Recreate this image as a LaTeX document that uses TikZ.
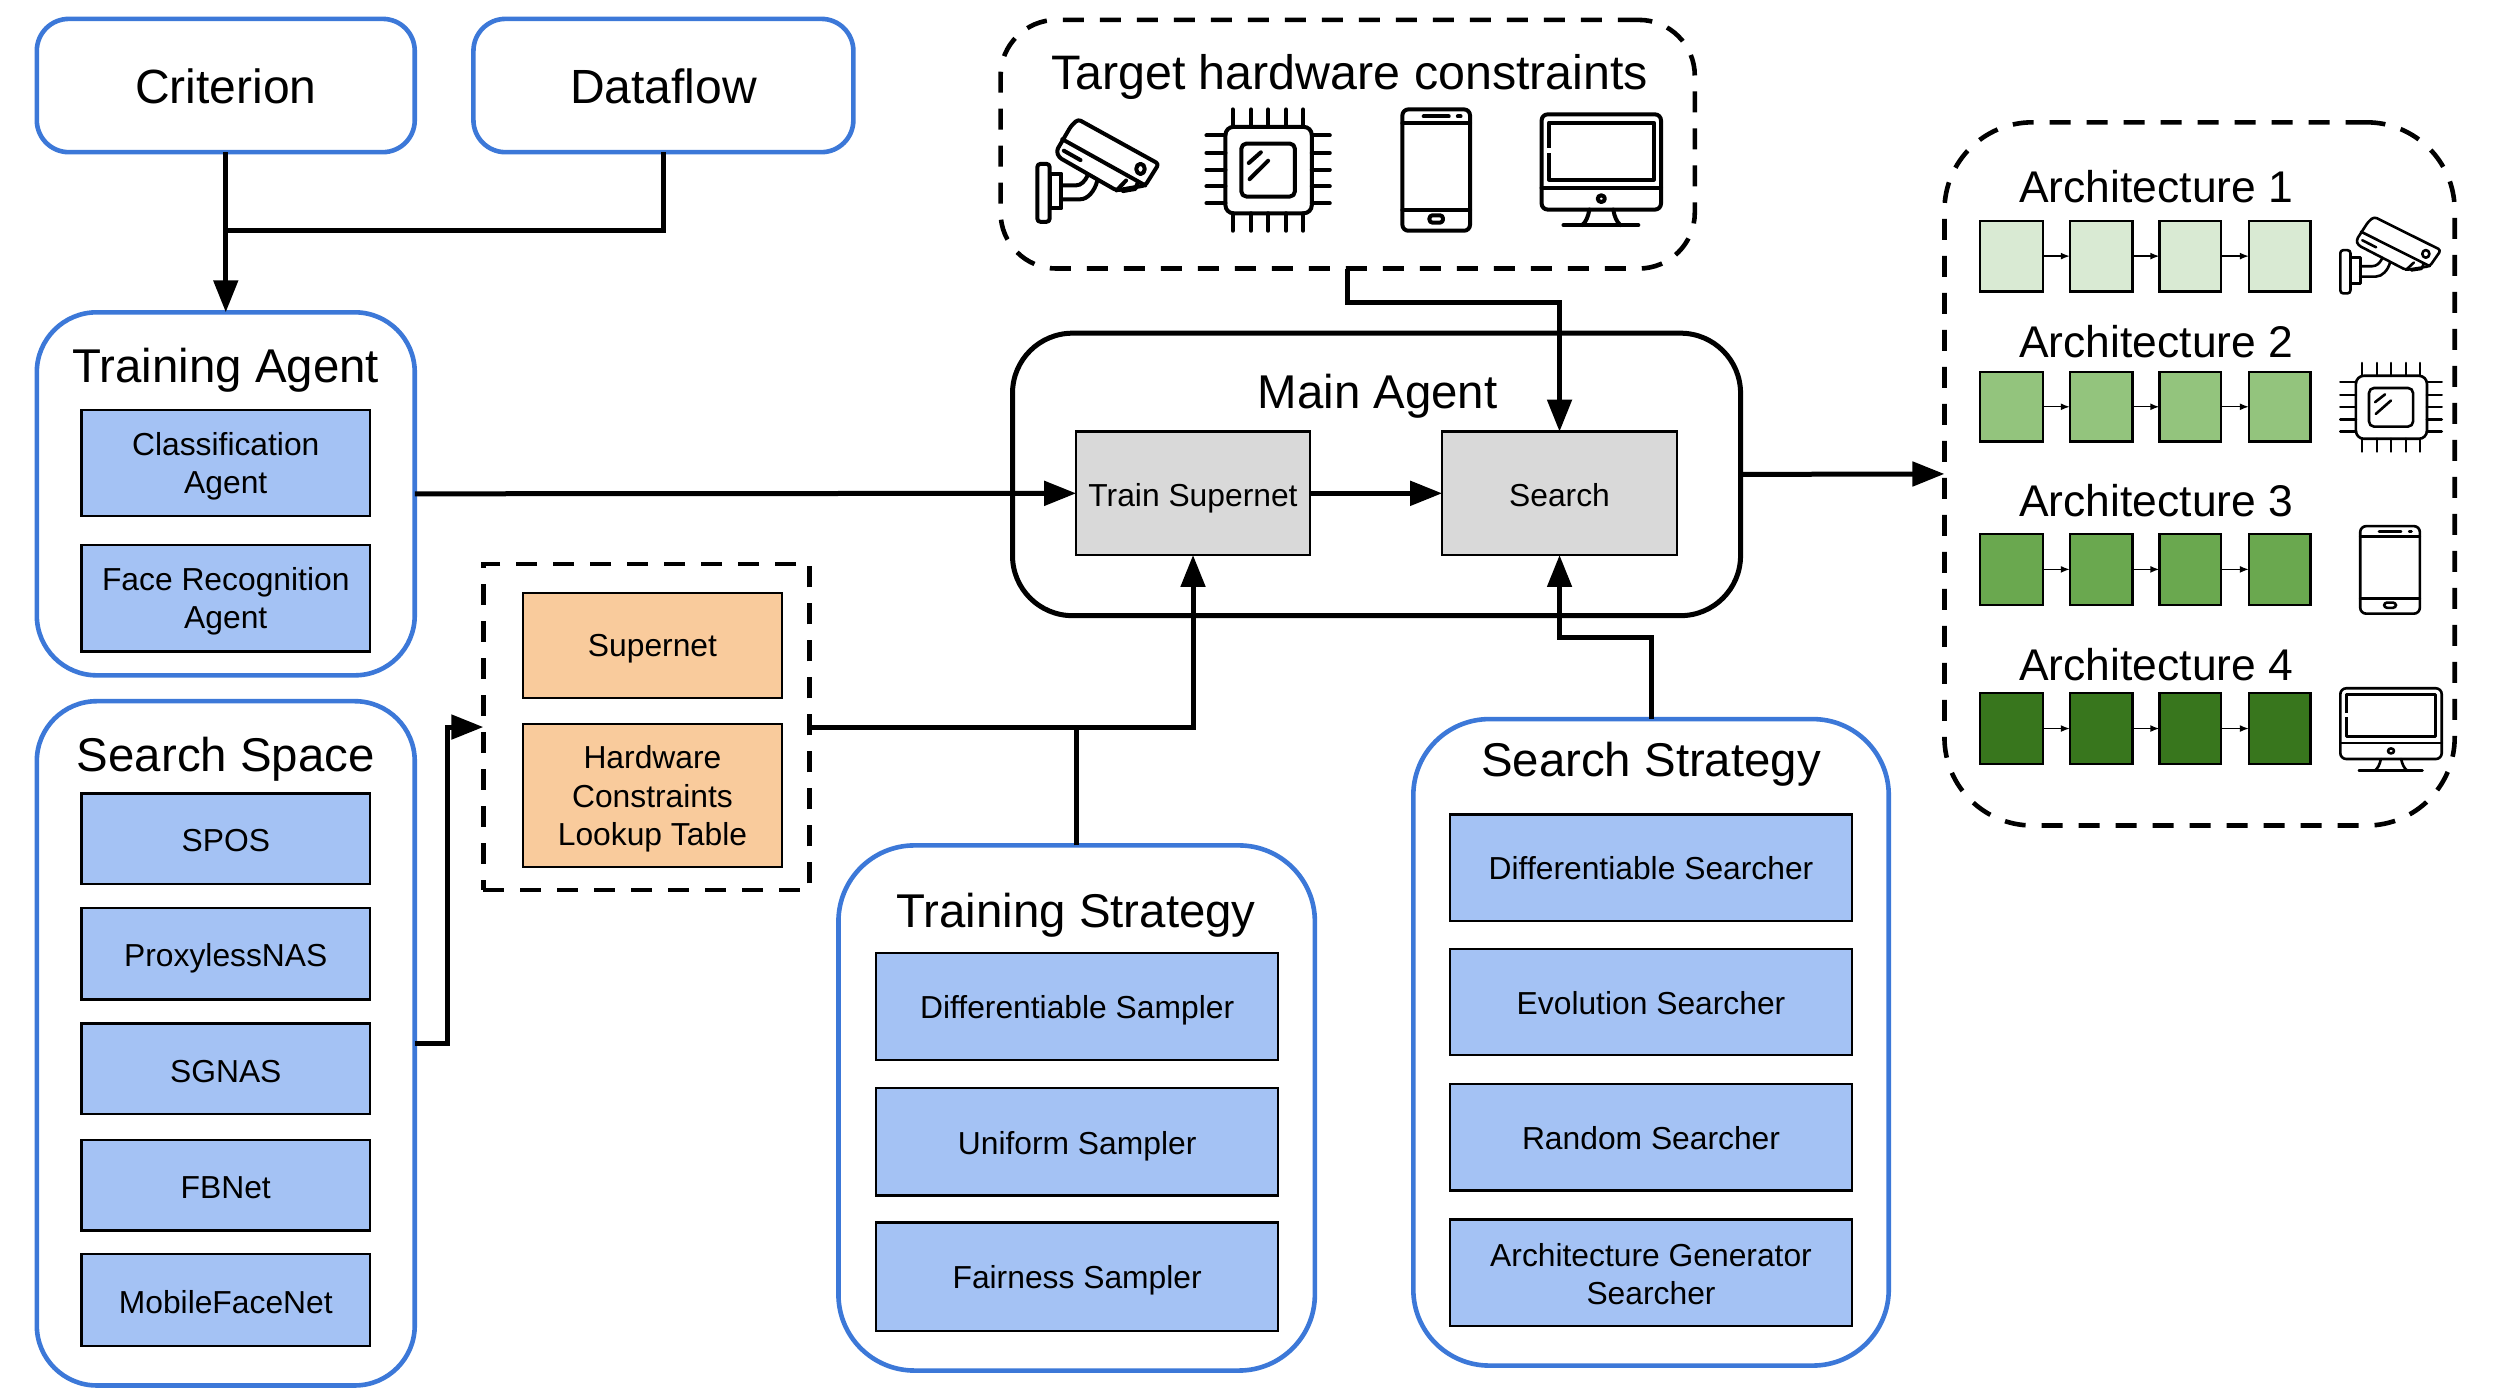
\documentclass[tikz,border=0pt]{standalone}
\usepackage{fontspec}
\setmainfont{Liberation Sans}
\usetikzlibrary{arrows.meta,calc}
\definecolor{panelblue}{HTML}{3C78D8}
\definecolor{agentblue}{HTML}{A4C2F4}
\definecolor{lookuporange}{HTML}{F9CB9C}
\definecolor{maingray}{HTML}{D9D9D9}
\definecolor{greenA}{HTML}{D9EAD3}
\definecolor{greenB}{HTML}{93C47D}
\definecolor{greenC}{HTML}{6AA84F}
\definecolor{greenD}{HTML}{38761D}
\tikzset{
  base/.style={shape=rectangle,inner sep=0pt,outer sep=0pt,align=center},
  panel/.style={base,draw=panelblue,line width=2.3pt,fill=white},
  topbox/.style={panel,rounded corners=16pt,text height=18.5pt,font=\fontsize{24}{28}\selectfont},
  dashpanel/.style={base,draw=black,line width=2.3pt,dash pattern=on 10.5pt off 8pt},
  item/.style={base,draw=black,line width=1.2pt,fill=agentblue,font=\fontsize{15.9}{19.2}\selectfont},
  drop/.style={text height=#1},
  lookup/.style={item,fill=lookuporange},
  proc/.style={item,fill=maingray},
  title/.style={base,font=\fontsize{23.7}{28}\selectfont},
  wideTitle/.style={base,font=\fontsize{24.2}{28}\selectfont},
  archtitle/.style={base,font=\fontsize{22.2}{26}\selectfont},
  block/.style={base,draw=black,line width=1.2pt},
  conn/.style={draw=black,line width=2.5pt,line join=miter},
  flow/.style={conn,-{Triangle[length=16pt,width=12pt]}},
  tiny/.style={draw=black,line width=0.7pt,-{Latex[length=4.5pt,width=3.5pt]}},
  icon/.style={draw=black,line join=round,line cap=round}
}
% #1 name #2 style #3 x1 #4 y1 #5 x2 #6 y2 #7 text
\newcommand{\bx}[7]{\node[#2,minimum width={(#5-#3)*0.4973pt},minimum height={(#6-#4)*0.4973pt}] (#1) at ({(#3+#5)/2},{(#4+#6)/2}) {#7};}
% icons: x y w h line width
\newcommand{\iconcam}[5]{\begin{scope}[shift={(#1,#2)},xscale=#3,yscale=#4,icon,line width=#5]
  \draw[rounded corners=1.5pt] (0,.435) rectangle (.1,1);
  \draw (.1,.53) rectangle (.196,.87);
  \draw (.196,.645) -- (.314,.645) .. controls (.36,.645) and (.39,.6) .. (.41,.55);
  \draw (.196,.78) -- (.353,.78) .. controls (.41,.78) and (.47,.7) .. (.49,.597);
  \draw[rounded corners=1.5pt] (.333,0) -- (.992,.435) -- (.882,.645) -- (.647,.694) -- (.176,.371) -- (.157,.306) -- (.275,.065) -- cycle;
  \draw (.204,.194) -- (.882,.645);
  \draw (.216,.306) -- (.353,.398);
  \draw (.843,.484) circle [x radius=.035,y radius=.05];
  \draw (.725,.597) -- (.647,.694);
  \draw (.7,.70) -- (.8,.68) -- (.82,.62);
\end{scope}}
\newcommand{\iconchip}[5]{\begin{scope}[shift={(#1,#2)},xscale=#3,yscale=#4,icon,line width=#5]
  \foreach \u in {.213,.362,.5,.646,.784}{\draw (\u,0) -- (\u,.144); \draw (\u,.856) -- (\u,1);}
  \foreach \v in {.215,.359,.497,.635,.773}{\draw (0,\v) -- (.154,\v); \draw (.854,\v) -- (1,\v);}
  \draw[rounded corners=4pt] (.154,.144) rectangle (.854,.856);
  \draw[rounded corners=2.5pt] (.283,.282) rectangle (.717,.718);
  \draw (.441,.354) -- (.343,.442);
  \draw (.5,.423) -- (.35,.575);
\end{scope}}
\newcommand{\iconphone}[5]{\begin{scope}[shift={(#1,#2)},xscale=#3,yscale=#4,icon,line width=#5]
  \draw[rounded corners=3pt] (0,0) rectangle (1,1);
  \draw (0,.116) -- (1,.116);
  \draw (0,.829) -- (1,.829);
  \draw (.315,.058) -- (.685,.058);
  \draw (.82,.058) -- (.86,.058);
  \draw[rounded corners=1.5pt] (.4,.873) rectangle (.6,.933);
\end{scope}}
\newcommand{\iconmon}[5]{\begin{scope}[shift={(#1,#2)},xscale=#3,yscale=#4,icon,line width=#5]
  \draw[rounded corners=3pt] (0,0) rectangle (1,.847);
  \draw (.06,.074) rectangle (.94,.58);
  \draw[white,line cap=butt] (.06,.30) -- (.06,.34);
  \draw (0,.655) -- (1,.655);
  \draw (.5,.75) circle [x radius=.03,y radius=.03];
  \draw (.4,.847) .. controls (.39,.91) and (.37,.96) .. (.34,.985);
  \draw (.6,.847) .. controls (.61,.91) and (.63,.96) .. (.66,.985);
  \draw (.183,.985) -- (.81,.985);
\end{scope}}
\begin{document}
\begin{tikzpicture}[x=0.4973pt,y=-0.4973pt]
\path[use as bounding box,fill=white] (0,0) rectangle (2513.57,1407.6);
% top boxes
\bx{crit}{topbox}{37}{19}{417}{153}{Criterion}
\bx{df}{topbox}{476}{19}{858}{153}{Dataflow}
% training agent
\bx{ta}{panel,rounded corners=30pt}{37}{314}{417}{679}{}
\node[title] (tat) at (227,372) {Training Agent};
\bx{ca}{item,drop=34pt}{82}{412}{372}{519}{Classification\\Agent}
\bx{fa}{item,drop=34pt}{82}{548}{372}{655}{Face Recognition\\Agent}
% search space
\bx{ss}{panel,rounded corners=30pt}{37}{705}{417}{1393}{}
\node[title] (sst) at (227,763) {Search Space};
\bx{sp}{item,drop=13.2pt}{82}{798}{372}{889}{SPOS}
\bx{pn}{item,drop=15.6pt}{82}{913}{372}{1005}{ProxylessNAS}
\bx{sg}{item,drop=14pt}{82}{1029}{372}{1120}{SGNAS}
\bx{fb}{item,drop=14pt}{82}{1146}{372}{1237}{FBNet}
\bx{mf}{item,drop=14pt}{82}{1261}{372}{1353}{MobileFaceNet}
% lookup group
\bx{lk}{dashpanel}{486}{567}{814}{895}{}
\bx{sn}{lookup,drop=14.8pt}{526}{596}{786}{702}{Supernet}
\bx{hw}{lookup,drop=53.2pt}{526}{728}{786}{872}{Hardware\\Constraints\\Lookup Table}
% training strategy
\bx{tr}{panel,rounded corners=38pt}{843}{850}{1322}{1378}{}
\node[title] (trt) at (1082,920) {Training Strategy};
\bx{t1}{item,drop=15.6pt}{881}{958}{1285}{1066}{Differentiable Sampler}
\bx{t2}{item,drop=15.6pt}{881}{1094}{1285}{1202}{Uniform Sampler}
\bx{t3}{item,drop=15.6pt}{881}{1229}{1285}{1338}{Fairness Sampler}
% search strategy
\bx{st}{panel,rounded corners=38pt}{1421}{723}{1899}{1373}{}
\node[title] (stt) at (1660,768) {Search Strategy};
\bx{s1}{item}{1458}{819}{1862}{926}{Differentiable Searcher}
\bx{s2}{item,drop=12.2pt}{1458}{954}{1862}{1061}{Evolution Searcher}
\bx{s3}{item,drop=12.4pt}{1458}{1090}{1862}{1197}{Random Searcher}
\bx{s4}{item,drop=32.4pt}{1458}{1226}{1862}{1333}{Architecture Generator\\Searcher}
% main agent
\bx{ma}{base,draw=black,line width=2.5pt,rounded corners=30pt}{1018}{335}{1750}{619}{}
\node[title] (mat) at (1385,398) {Main Agent};
\bx{ts}{proc,drop=16.4pt}{1082}{434}{1317}{558}{Train Supernet}
\bx{se}{proc,drop=13.2pt}{1450}{434}{1686}{558}{Search}
% target hardware
\bx{tg}{dashpanel,rounded corners=28pt}{1006}{20}{1704}{270}{}
\node[wideTitle] (tgt) at (1357,77) {Target hardware constraints};
\iconcam{1043}{120}{123}{103}{2pt}
\iconchip{1213}{110}{124}{122}{2pt}
\iconphone{1410}{110}{68}{122}{2pt}
\iconmon{1550}{115}{120}{113}{2pt}
% architectures
\bx{ar}{dashpanel,rounded corners=44pt}{1955}{123}{2468}{830}{}
\node[archtitle] (a1t) at (2168,188) {Architecture 1};
\node[archtitle] (a2t) at (2168,343) {Architecture 2};
\node[archtitle] (a3t) at (2168,503) {Architecture 3};
\node[archtitle] (a4t) at (2168,668) {Architecture 4};
\foreach \r/\ya/\yb/\col in {1/222/293/greenA,2/374/444/greenB,3/537/608/greenC,4/697/768/greenD}{
  \bx{b\r a}{block,fill=\col}{1991}{\ya}{2054}{\yb}{}
  \bx{b\r b}{block,fill=\col}{2081}{\ya}{2144}{\yb}{}
  \bx{b\r c}{block,fill=\col}{2171}{\ya}{2233}{\yb}{}
  \bx{b\r d}{block,fill=\col}{2261}{\ya}{2323}{\yb}{}
  \draw[tiny] (b\r a) -- (b\r b);
  \draw[tiny] (b\r b) -- (b\r c);
  \draw[tiny] (b\r c) -- (b\r d);
}
\iconcam{2353}{218}{102}{77}{1.3pt}
\iconchip{2353}{365}{102}{89}{1.3pt}
\iconphone{2373}{529}{60}{88}{1.3pt}
\iconmon{2353}{692}{102}{84}{1.3pt}
% connectors
\coordinate (j1) at (227,232);
\coordinate (j2) at (1660,641);
\coordinate (j3) at (1568,304);
\coordinate (j4) at (450,900);
\draw[flow] (crit.south) -- (ta.north);
\draw[conn] (df.south) |- (j1);
\draw[flow] (ta.east) -- (ts.west);
\draw[flow] (ts.east) -- (se.west);
\draw[flow] (tg.south) |- (j3) -- (se.north);
\draw[flow] (st.north) |- (j2) -| (se.south);
\draw[flow] (lk.east) -| (ts.south);
\draw[conn] (tr.north) -- (tr.north |- lk.east);
\draw[flow] (ss.east) -| (j4) |- (lk.west);
\draw[flow] (ma.east) -- (ar.west);
\end{tikzpicture}
\end{document}
